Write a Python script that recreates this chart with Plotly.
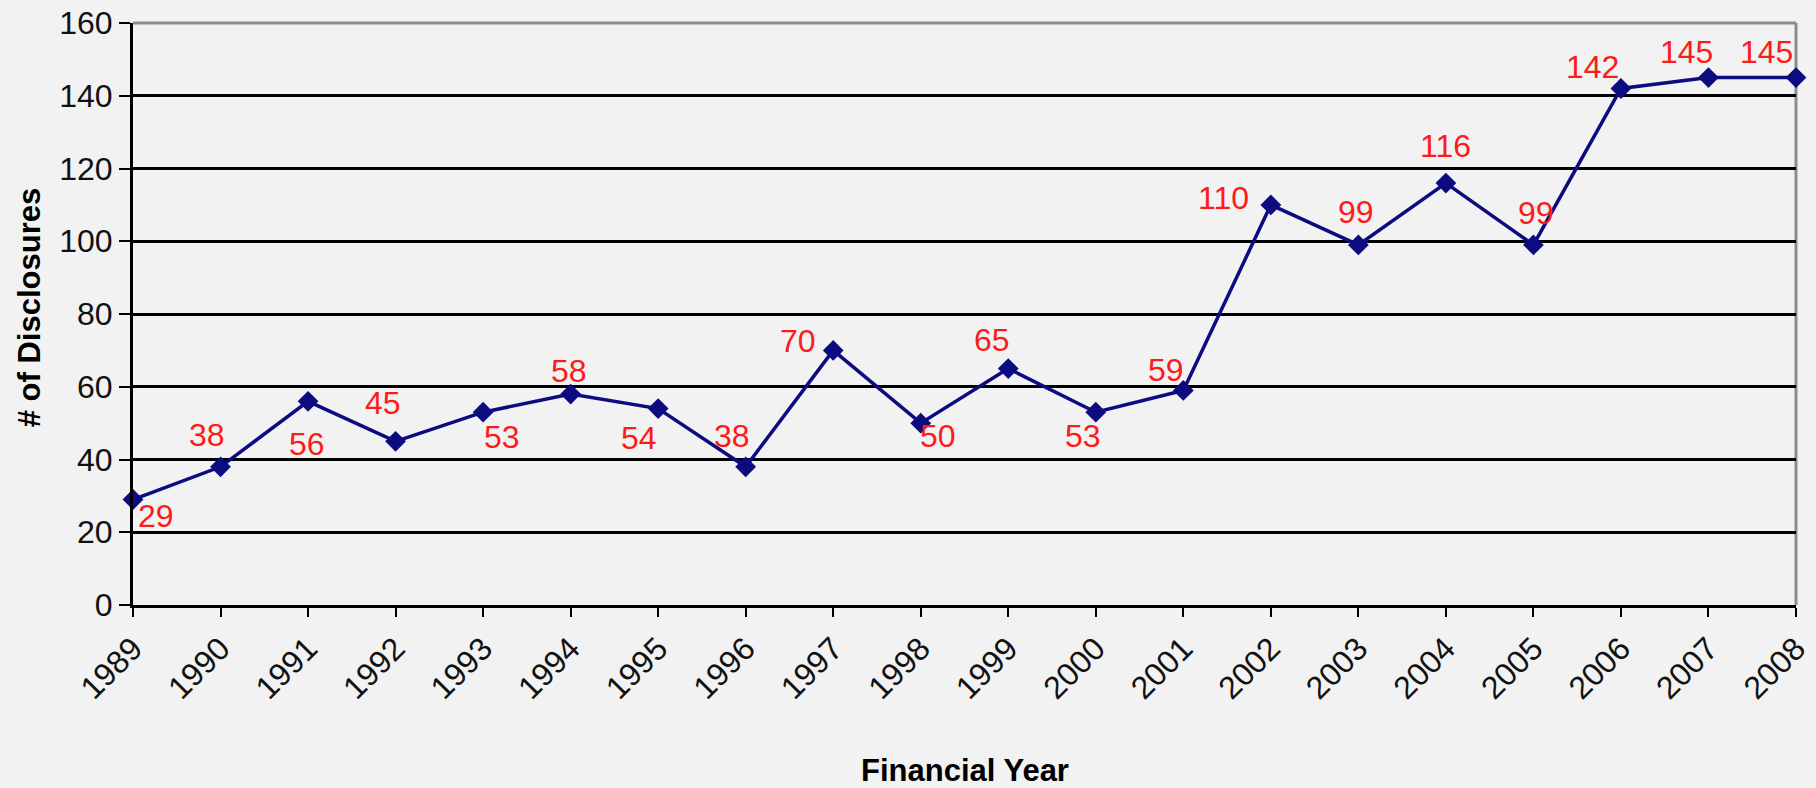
import plotly.graph_objects as go

years = list(range(1989, 2009))
disclosures = [29, 38, 56, 45, 53, 58, 54, 38, 70, 50, 65, 53, 59, 110, 99, 116, 99, 142, 145, 145]
# label offsets (pixels, right / down) of each value label from its point
label_dx = [23, -14, -1, -13, 19, -2, -19, -14, -35, 17, -16, -13, -17, -47, -2, 0, 3, -28, -22, -30]
label_dy = [16, -32, 43, -38, 25, -23, 29, -31, -9, 13, -29, 24, -20, -7, -33, -37, -32, -21, -26, -26]
y_ticks = [0, 20, 40, 60, 80, 100, 120, 140, 160]

FONT = "Arial, Liberation Sans, sans-serif"
LINE_COLOR = "#0c0c80"

fig = go.Figure()
fig.add_trace(go.Scatter(
    x=years, y=disclosures,
    mode="lines+markers",
    line=dict(color=LINE_COLOR, width=3.5),
    marker=dict(symbol="diamond", size=16, color=LINE_COLOR),
    cliponaxis=False,
    showlegend=False,
    hoverinfo="skip",
))

annotations = [
    dict(x=x, y=v, xref="x", yref="y", text=str(v), showarrow=False,
         xanchor="center", yanchor="middle", xshift=dx, yshift=-dy,
         font=dict(family=FONT, size=32, color="#ff1a1a"))
    for x, v, dx, dy in zip(years, disclosures, label_dx, label_dy)
]
annotations += [
    dict(text="<b>Financial Year</b>", xref="paper", yref="paper",
         x=0.5, y=-0.284, xanchor="center", yanchor="middle", showarrow=False,
         font=dict(family=FONT, size=31, color="#000")),
    dict(text="<b># of Disclosures</b>", xref="paper", yref="paper",
         x=-0.0625, y=0.51, xanchor="center", yanchor="middle", showarrow=False,
         textangle=-90, font=dict(family=FONT, size=31, color="#000")),
]

fig.update_layout(
    width=1816, height=788,
    margin=dict(l=133, r=20, t=23, b=183, autoexpand=False),
    paper_bgcolor="#f2f2f2", plot_bgcolor="#f2f2f2",
    font=dict(family=FONT, size=32, color="#000000"),
    shapes=[
        dict(type="line", xref="paper", yref="paper", x0=0, x1=1, y0=1, y1=1,
             line=dict(color="#8c8c8c", width=3), layer="above"),
        dict(type="line", xref="paper", yref="paper", x0=1, x1=1, y0=0, y1=1,
             line=dict(color="#8c8c8c", width=3), layer="below"),
    ],
    annotations=annotations,
)

fig.update_xaxes(
    range=[1989, 2008], automargin=False,
    tickmode="array", tickvals=years, ticktext=[str(y) for y in years],
    tickangle=-45,
    ticks="outside", ticklen=9, tickwidth=2, tickcolor="#000",
    showline=True, linecolor="#000", linewidth=3,
    showgrid=False, zeroline=False,
    tickfont=dict(family=FONT, size=32, color="#111"),
)
fig.update_yaxes(
    range=[0, 160], automargin=False,
    tickmode="array", tickvals=y_ticks,
    ticks="outside", ticklen=11, tickwidth=2, tickcolor="#000",
    showline=True, linecolor="#000", linewidth=3,
    showgrid=True, gridcolor="#000", gridwidth=3,
    zeroline=False,
    tickfont=dict(family=FONT, size=32, color="#111"),
)

fig.write_html("out.html", config={"displayModeBar": False})

with open("out.html", "r", encoding="utf-8") as f:
    html = f.read()
html = html.replace("<body>", '<body style="margin:0;background:#f2f2f2;">', 1)
with open("out.html", "w", encoding="utf-8") as f:
    f.write(html)
